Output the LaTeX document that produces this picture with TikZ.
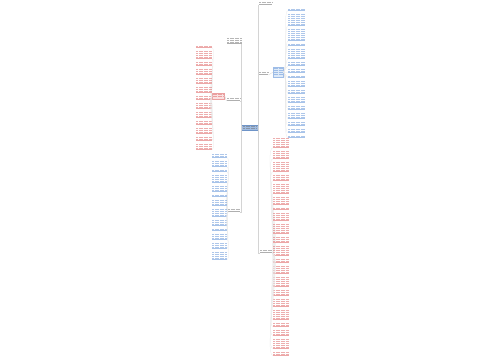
\documentclass[tikz,border=0pt]{standalone}
\definecolor{lb}{RGB}{95,145,215}
\definecolor{lr}{RGB}{220,95,95}
\definecolor{cn}{RGB}{212,212,212}
\definecolor{cl}{RGB}{232,232,232}
\definecolor{dk}{RGB}{110,110,110}
\definecolor{cf}{RGB}{160,188,225}
\definecolor{cb}{RGB}{110,148,200}
\definecolor{bf}{RGB}{222,234,248}
\definecolor{rf}{RGB}{250,225,225}
\tikzset{
  conn/.style={draw=cn,line width=0.3pt},
  leafconn/.style={draw=cl,line width=0.25pt,looseness=0.25},
  boxnode/.style={inner sep=0,anchor=north west},
}
\newcommand\txtbars[5]{%
  \foreach \ii in {1,...,#3}{\draw[#5,opacity=0.5,line width=0.75pt,dash pattern=on 1pt off 0.25pt] (#1,{#2+2*\ii-1.1}) -- ({#1+#4},{#2+2*\ii-1.1});}%
}
\newcommand\leafnode[6]{%
  \node[boxnode,minimum width=#6pt,minimum height={(2*#4+1)*1pt}] (#1) at (#2,#3) {};%
  \txtbars{#2}{#3}{#4}{#6}{#5}%
  \draw[#5!55,line width=0.3pt] (#2,{#3+2*#4+0.6}) -- ++(#6,0);%
}
\begin{document}
\begin{tikzpicture}[x=1pt,y=-1pt]
\useasboundingbox[fill=white] (0,0) rectangle (500,360);
% central
\node[boxnode,draw=cb,fill=cf,line width=0.3pt,minimum width=17pt,minimum height=5pt] (c) at (241,125) {};
\txtbars{243}{125.5}{2}{13}{dk}
% top node
\leafnode{T}{259}{1.5}{1}{dk}{13}
% right branch labels
\leafnode{R1}{259}{71.5}{1}{dk}{9}
\leafnode{R2}{260}{249.5}{1}{dk}{12}
% left branch labels
\leafnode{A}{227}{37}{3}{dk}{15}
\leafnode{B}{227}{97.5}{1}{dk}{13}
\leafnode{C}{228}{208.5}{1}{dk}{12}
% blue box
\node[boxnode,draw=lb!60,fill=bf,line width=0.3pt,minimum width=10pt,minimum height=10pt] (bx) at (273,67) {};
\txtbars{273.5}{67}{4}{9}{lb}
% red box
\node[boxnode,draw=lr!60,fill=rf,line width=0.3pt,minimum width=12pt,minimum height=6pt] (rx) at (212,93) {};
\txtbars{212.5}{93}{2}{11}{lr}
% central connectors
\draw[conn] (c.east) -- (c.east |- T.south) -- (T.south west);
\draw[conn] (c.east) -- (c.east |- R1.south) -- (R1.south west);
\draw[conn] (c.east) -- (c.east |- R2.south) -- (R2.south west);
\draw[conn] (c.west) -- (c.west |- A.south) -- (A.south east);
\draw[conn] (c.west) -- (c.west |- B.south) -- (B.south east);
\draw[conn] (c.west) -- (c.west |- C.south) -- (C.south east);
\draw[conn] (R1.south east) to[out=0,in=180] (bx.west);
\draw[conn] (B.south west) to[out=180,in=0] (rx.east);
% right blue column
\foreach \y/\n [count=\k] in {8/1,13/6,28/6,43/1,48/5,61/2,68/2,75/1,80/3,89/2,96/3,105/2,112/3,121/2,128/2,135/1}{
  \draw[leafconn] (bx.east) to[out=0,in=180] (288,{\y+2*\n+0.6});
  \leafnode{rb\k}{288}{\y}{\n}{lb}{17}
}
% right red column
\foreach \y/\n [count=\k] in {137/5,150/4,161/5,174/3,183/5,196/4,207/1,212/4,223/5,236/3,245/5,258/2,265/4,276/5,289/3,298/4,309/5,322/2,329/3,338/5,351/2}{
  \draw[leafconn] (R2.south east) to[out=0,in=180] (273,{\y+2*\n+0.6});
  \leafnode{rr\k}{273}{\y}{\n}{lr}{16}
}
% left red column
\foreach \y/\n [count=\k] in {45/1,50/4,61/2,68/3,77/3,86/3,95/2,102/3,111/3,120/2,127/3,136/2,143/3}{
  \draw[leafconn] (rx.west) to[out=180,in=0] (212,{\y+2*\n+0.6});
  \leafnode{lr\k}{196}{\y}{\n}{lr}{16}
}
% left blue column
\foreach \y/\n [count=\k] in {153/2,160/3,169/1,174/4,185/3,194/1,199/3,208/4,219/3,228/1,233/3,242/3,251/4}{
  \draw[leafconn] (C.south west) to[out=180,in=0] (227,{\y+2*\n+0.6});
  \leafnode{lb\k}{212}{\y}{\n}{lb}{15}
}
\end{tikzpicture}
\end{document}
